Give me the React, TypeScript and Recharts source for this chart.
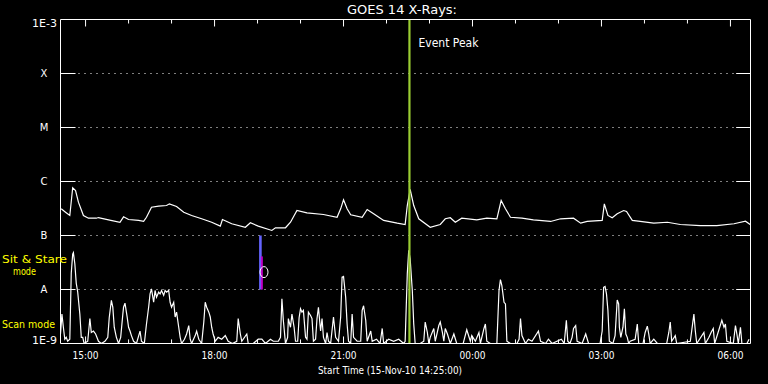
import { LineChart, Line, XAxis, YAxis, ReferenceLine, ReferenceDot } from "recharts";

// minutes after 14:25 UT on 15-Nov-10
const longTime = [
  1, 7, 13, 17, 21, 25, 32, 39, 50, 53, 67, 83, 88, 95, 109, 116, 120, 127, 137, 148,
  152, 162, 172, 183, 197, 211, 223, 226, 239, 258, 265, 276, 295, 300, 314, 321, 330, 344, 367, 386,
  391, 395, 400, 405, 421, 428, 437, 451, 470, 481, 484, 488, 493, 500, 516, 530, 537, 544, 551, 560,
  581, 595, 609, 615, 621, 628, 644, 660, 684, 698, 716, 726, 735, 756, 759, 764, 770, 777, 786, 790,
  798, 809, 828, 847, 865, 893, 916, 940, 956, 963,
];
// 1-8 A flux, units of 1e-7 W/m^2
const longFlux = [
  3.12, 2.7, 2.35, 7.64, 6.81, 4.14, 2.35, 2.09, 2.09, 2.15, 1.95, 1.76, 2.22, 1.98, 1.9, 1.82, 2.18, 3.34, 3.49, 3.59,
  3.86, 3.44, 2.7, 2.35, 2.04, 1.76, 1.49, 1.98, 1.65, 1.42, 1.72, 1.49, 1.24, 1.39, 1.39, 1.76, 2.9, 2.63, 2.45, 2.18,
  3.12, 4.58, 3.12, 2.42, 2.18, 3.03, 2.52, 1.9, 1.69, 1.6, 3.59, 7.11, 3.59, 2.04, 1.42, 1.6, 2.04, 2.13, 1.76, 2.09,
  1.95, 2.09, 2.04, 4.45, 3.12, 2.18, 2.09, 1.95, 1.82, 2.04, 2.09, 1.69, 1.82, 1.9, 3.86, 2.35, 2.13, 2.52, 2.9, 2.78,
  1.9, 1.82, 1.69, 1.76, 1.6, 1.53, 1.53, 1.65, 1.84, 1.58,
];

const shortTime = [
  0, 2, 4, 6, 8, 10, 13, 15, 17, 18, 20, 22, 24, 27, 29, 31, 33, 38, 41, 43,
  46, 49, 53, 57, 62, 66, 68, 71, 73, 75, 78, 81, 84, 87, 88, 90, 93, 95, 97, 99,
  102, 106, 111, 113, 117, 120, 123, 125, 127, 130, 132, 134, 137, 139, 141, 144, 146, 148, 151, 153,
  155, 158, 160, 162, 165, 167, 169, 173, 176, 179, 181, 183, 188, 190, 193, 197, 200, 202, 204, 207,
  209, 211, 213, 216, 220, 225, 230, 234, 240, 246, 248, 251, 253, 260, 262, 269, 276, 281, 286, 293,
  297, 304, 307, 309, 311, 314, 317, 318, 321, 323, 326, 328, 331, 333, 335, 337, 339, 342, 344, 346,
  349, 351, 353, 356, 358, 360, 363, 365, 367, 370, 372, 374, 377, 381, 384, 388, 391, 393, 395, 398,
  400, 402, 405, 407, 409, 414, 419, 421, 423, 426, 428, 433, 435, 441, 446, 449, 451, 458, 465, 472,
  479, 481, 484, 486, 488, 491, 493, 495, 502, 507, 509, 512, 514, 516, 521, 523, 528, 530, 533, 535,
  537, 540, 544, 549, 553, 562, 567, 572, 574, 579, 584, 586, 591, 593, 595, 600, 609, 612, 614, 616,
  619, 621, 623, 628, 637, 640, 642, 644, 649, 653, 658, 667, 670, 677, 681, 686, 699, 703, 706, 708,
  711, 714, 716, 719, 721, 728, 733, 737, 753, 756, 758, 760, 762, 764, 766, 771, 774, 777, 779, 780,
  782, 785, 787, 789, 791, 793, 795, 802, 805, 807, 813, 816, 819, 821, 823, 828, 833, 846, 849, 851,
  853, 858, 860, 879, 884, 886, 888, 898, 900, 905, 908, 911, 913, 923, 926, 928, 930, 939, 942, 944,
  946, 949, 951, 958, 961,
];
// 0.5-4 A flux, units of 1e-9 W/m^2
const shortFlux = [
  1.5, 3.5, 2.0, 1.2, 1.3, 1.1, 1.2, 20, 45, 48, 30, 13, 9, 3.5, 1.3, 1.3, 1, 1.1, 2.9, 1.6,
  1.7, 1.5, 1.1, 1, 1.1, 1.3, 3.0, 6.3, 4.7, 2.0, 1.3, 1, 1.3, 3.5, 4.7, 5.6, 3.1, 2.0, 1.7, 1.4,
  1.1, 1, 1.7, 1.1, 1, 2.3, 4.7, 8.3, 10.3, 5.8, 9.6, 7.2, 8.9, 8.3, 9.6, 7.8, 9.6, 8.9, 9.6, 5.8,
  4.7, 5.8, 3.1, 3.8, 2.0, 1.3, 1, 1.2, 1.5, 2.15, 1.2, 1, 1.4, 1.7, 1.2, 1, 2.5, 5.8, 4.7, 3.8,
  3.1, 2.0, 1.5, 1.1, 1.3, 1.2, 1.4, 1.1, 1, 1.1, 2.9, 1.5, 1.1, 1.5, 1, 1, 1.2, 1.2, 1, 1.2,
  1.1, 1.1, 1.3, 6.7, 2.7, 1, 1.3, 2.9, 2.0, 3.5, 2.0, 1.1, 1.1, 3.0, 4.4, 3.8, 4.1, 1.3, 1.2, 3.8,
  3.3, 2.9, 1.1, 1.2, 2.9, 4.7, 1.7, 2.9, 1.3, 1, 1.6, 1.1, 1, 3.1, 1.3, 1.1, 3.1, 16.9, 17.4, 7.2,
  2.3, 1.1, 1, 3.5, 1.3, 1.1, 1.1, 4.1, 5.0, 2.7, 1.1, 1.7, 1.1, 1.2, 1, 1.9, 1, 1.2, 1.1, 1.2,
  1, 1.1, 19.5, 53, 37, 9.6, 2.3, 1, 1, 1.1, 2.5, 1.6, 1, 1.3, 1.9, 1.1, 2.15, 2.5, 1.6, 1.1,
  1.9, 1.5, 1, 1.5, 1, 1, 1.8, 1.1, 1.4, 1.1, 1.6, 1, 1.9, 2.3, 1.1, 1, 1, 9.6, 15.3, 11.8,
  5.8, 5.4, 1.1, 1, 1, 1.2, 2.9, 1.4, 1, 1.2, 1.1, 1.7, 1.1, 1, 1.2, 1, 1.2, 1, 2.7, 1.1,
  1, 1.3, 1.9, 2.15, 1.1, 1, 1.5, 1, 1, 1.7, 11.0, 11.4, 8.3, 4.1, 1.1, 1, 1.4, 6.4, 5.4, 2.0,
  1.3, 2.0, 4.4, 1.5, 1.3, 1, 1.1, 1.2, 2.3, 1, 1, 1.6, 2.1, 1.5, 1, 1.2, 1, 1, 1.6, 2.5,
  1.1, 1.4, 1, 1.1, 3.5, 1.7, 1, 1.6, 1, 1.3, 1.6, 1.9, 1, 2.7, 2.0, 2.3, 1.1, 1, 2.15, 1.5,
  1, 2.0, 1, 1, 1.2,
];

const timeTicks = [35, 215, 395, 575, 755, 935];
const timeLabels = ["15:00", "18:00", "21:00", "00:00", "03:00", "06:00"];
const hourMarks = [35, 95, 155, 215, 275, 335, 395, 455, 515, 575, 635, 695, 755, 815, 875, 935];
const fluxTicks = [1e-9, 1e-8, 1e-7, 1e-6, 1e-5, 1e-4, 1e-3];
const fluxLabels = ["1E-9", "A", "B", "C", "M", "X", "1E-3"];
const classLevels = [1e-8, 1e-7, 1e-6, 1e-5, 1e-4];

const eventPeak = 487;
const sitStare = { t: 279, from: 1e-8, to: 1e-7 };
const scanMark = { t: 281, from: 1e-8, to: 4.1e-8 };
const marker = { t: 284, flux: 2.1e-8 };

const T_END = 963;
const FONT = "DejaVu Sans, sans-serif";

const longData = longTime.map((t, i) => ({ t, flux: longFlux[i] * 1e-7 }));
const shortData = shortTime.map((t, i) => ({ t, flux: shortFlux[i] * 1e-9 }));

function TimeTick(props: any) {
  const { x, y, payload } = props;
  const i = timeTicks.indexOf(payload.value);
  return (
    <text x={x} y={y + 15.5} textAnchor="middle" fill="#fff" fontSize={10} fontFamily={FONT} textLength={26} lengthAdjust="spacingAndGlyphs">
      {timeLabels[i]}
    </text>
  );
}

function FluxTick(props: any) {
  const { x, y, payload } = props;
  const i = fluxTicks.findIndex((v) => Math.abs(Math.log10(v) - Math.log10(payload.value)) < 0.01);
  const label = fluxLabels[i];
  if (label && label.startsWith("1E")) {
    const dy = i === 0 ? 0 : 7.5;
    return (
      <text x={x - 3.5} y={y + dy} textAnchor="end" fill="#fff" fontSize={10} fontFamily={FONT} textLength={25} lengthAdjust="spacingAndGlyphs">
        {label}
      </text>
    );
  }
  return (
    <text x={x - 16.5} y={y + 3.8} textAnchor="middle" fill="#fff" fontSize={10} fontFamily={FONT}>
      {label}
    </text>
  );
}

export default function App() {
  return (
    <div style={{ position: "absolute", left: 0, top: 0, width: 768, height: 384, background: "#000", overflow: "hidden" }}>
      <LineChart width={768} height={384} margin={{ top: 19.5, right: 17.5, bottom: 0, left: 0 }}>
        <XAxis
          dataKey="t"
          type="number"
          domain={[0, T_END]}
          allowDataOverflow
          ticks={timeTicks}
          interval={0}
          height={40.5}
          axisLine={false}
          tickLine={false}
          tickSize={0}
          tickMargin={0}
          tick={<TimeTick />}
        />
        <YAxis
          type="number"
          scale="log"
          domain={[1e-9, 1e-3]}
          allowDataOverflow
          ticks={fluxTicks}
          interval={0}
          width={60.5}
          axisLine={false}
          tickLine={false}
          tickSize={0}
          tickMargin={0}
          tick={<FluxTick />}
        />

        {classLevels.map((lv) => (
          <ReferenceLine key={"g" + lv} y={lv} stroke="#fff" strokeDasharray="1 5" />
        ))}
        {classLevels.map((lv) => (
          <ReferenceLine key={"l" + lv} segment={[{ x: 0, y: lv }, { x: 21, y: lv }]} stroke="#fff" />
        ))}
        {classLevels.map((lv) => (
          <ReferenceLine key={"r" + lv} segment={[{ x: 943, y: lv }, { x: T_END, y: lv }]} stroke="#fff" />
        ))}
        {hourMarks.map((h, i) => (
          <ReferenceLine key={"ht" + h} segment={[{ x: h, y: 1e-3 }, { x: h, y: i % 3 === 0 ? 7.42e-4 : 8.43e-4 }]} stroke="#fff" />
        ))}
        {hourMarks.map((h, i) => (
          <ReferenceLine key={"hb" + h} segment={[{ x: h, y: 1e-9 }, { x: h, y: i % 3 === 0 ? 1.35e-9 : 1.19e-9 }]} stroke="#fff" />
        ))}

        <Line data={longData} dataKey="flux" type="linear" stroke="#fff" strokeWidth={1.2} dot={false} isAnimationActive={false} />
        <Line data={shortData} dataKey="flux" type="linear" stroke="#fff" strokeWidth={1.2} dot={false} isAnimationActive={false} />

        <ReferenceLine segment={[{ x: sitStare.t, y: sitStare.from }, { x: sitStare.t, y: sitStare.to }]} stroke="#6464ff" strokeWidth={2.6} />
        <ReferenceLine segment={[{ x: scanMark.t, y: scanMark.from }, { x: scanMark.t, y: scanMark.to }]} stroke="#c000c8" strokeWidth={2} />
        <ReferenceDot
          x={marker.t}
          y={marker.flux}
          r={5}
          shape={(p: any) => <ellipse cx={p.cx} cy={p.cy} rx={4} ry={5.5} fill="none" stroke="#fff" strokeWidth={1} />}
        />
        <ReferenceLine
          x={eventPeak}
          stroke="#9acd32"
          strokeWidth={2.2}
          label={(p: any) => (
            <text x={p.viewBox.x + 9} y={p.viewBox.y + 27} fill="#fff" fontSize={11.5} fontFamily={FONT} textLength={60} lengthAdjust="spacingAndGlyphs">
              Event Peak
            </text>
          )}
        />

        <ReferenceLine x={0} stroke="#fff" />
        <ReferenceLine x={T_END} stroke="#fff" />
        <ReferenceLine y={1e-3} stroke="#fff" />
        <ReferenceLine y={1e-9} stroke="#fff" />
      </LineChart>

      <svg width={768} height={384} style={{ position: "absolute", left: 0, top: 0, pointerEvents: "none" }}>
        <text x={402} y={14} textAnchor="middle" fill="#fff" fontSize={12.5} fontFamily={FONT} textLength={110} lengthAdjust="spacingAndGlyphs">
          GOES 14 X-Rays:
        </text>
        <text x={2} y={263} fill="#ffff00" fontSize={11} fontFamily={FONT} textLength={65} lengthAdjust="spacingAndGlyphs">
          Sit &amp; Stare
        </text>
        <text x={13} y={275} fill="#ffff00" fontSize={11} fontFamily={FONT} textLength={23} lengthAdjust="spacingAndGlyphs">
          mode
        </text>
        <text x={2} y={328} fill="#ffff00" fontSize={11} fontFamily={FONT} textLength={53} lengthAdjust="spacingAndGlyphs">
          Scan mode
        </text>
        <text x={390} y={374} textAnchor="middle" fill="#fff" fontSize={10} fontFamily={FONT} textLength={144} lengthAdjust="spacingAndGlyphs">
          Start Time (15-Nov-10 14:25:00)
        </text>
      </svg>
    </div>
  );
}
